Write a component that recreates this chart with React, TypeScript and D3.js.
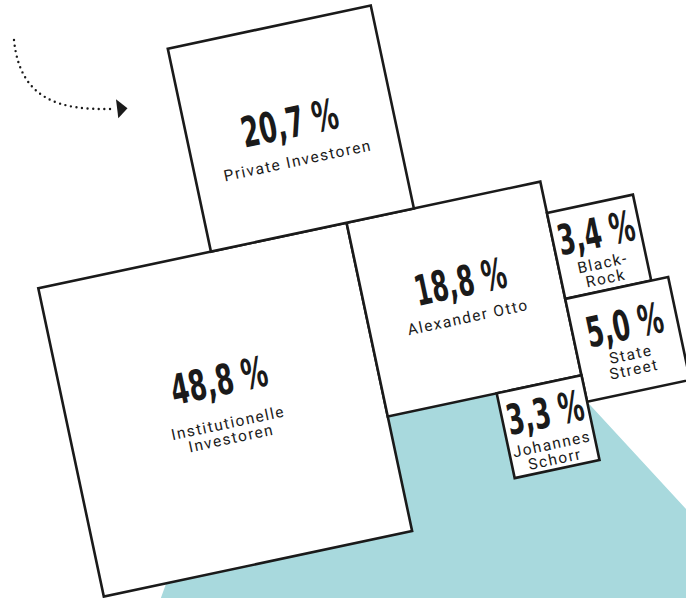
import React from "react";
import * as d3 from "d3";

// ---- data ----
const categories = [
  "Institutionelle Investoren",
  "Alexander Otto",
  "Private Investoren",
  "BlackRock",
  "State Street",
  "Johannes Schorr",
];
const shares = [48.8, 18.8, 20.7, 3.4, 5.0, 3.3];
const labelLines = [
  ["Institutionelle", "Investoren"],
  ["Alexander Otto"],
  ["Private Investoren"],
  ["Black-", "Rock"],
  ["State", "Street"],
  ["Johannes", "Schorr"],
];

// ---- layout / style config ----
const W = 686;
const H = 598;
const ANGLE = -12;
const ORIGIN: [number, number] = [38.3, 288.3];
const TEAL = "#a8d9dd";
const INK = "#1a1a1a";
// vertical text offsets relative to box centre: [number centre, first label line centre]
const textOffsets: [number, number][] = [
  [-30, 14],
  [-18, 19],
  [-6, 33],
  [-14.5, 17],
  [-15, 15.5],
  [-14.7, 18],
];
const LINE_GAP = 15.5;
const NUM_FS = 42;
// target advance per glyph of the condensed numeral style
const charAdvance = (ch: string) =>
  ch === "," ? 12 : ch === " " ? 6 : ch === "%" ? 20 : ch === "1" ? 15 : 20;
// natural advance (em) of DejaVu Sans Bold glyphs
const naturalAdvance = (ch: string) =>
  ch === "," ? 0.38 : ch === " " ? 0.348 : ch === "%" ? 1.002 : 0.696;

const side = d3.scaleSqrt().domain([0, 100]).range([0, 442]);
const sz = (p: number) => side(p) + 6.4;

const fmt = d3.format(".1f");
const pct = (v: number) => fmt(v).replace(".", ",") + " %";

export default function App() {
  const s = shares.map(sz);
  const [sInst, sOtto, sPriv, sBR, sState, sJoh] = s;
  const right = sInst + sOtto;
  const brTop = 32;
  const boxes = [
    { x: 0, y: 0, size: sInst },
    { x: sInst, y: 0, size: sOtto },
    { x: sInst * 0.56, y: -sPriv, size: sPriv },
    { x: right, y: brTop, size: sBR },
    { x: right, y: brTop + sBR, size: sState },
    { x: right - sJoh, y: sOtto, size: sJoh },
  ];
  const stateBottom = brTop + sBR + sState;

  // teal "beam" behind the boxes (local coordinates)
  const leftAnchor: [number, number] = [64, sInst];
  const leftDir: [number, number] = [-0.53, 0.85];
  const rightDir: [number, number] = [0.51, 0.86];
  const far = 700;
  const tealPts: [number, number][] = [
    [leftAnchor[0] + 6, sInst - 10],
    [leftAnchor[0] + 6, sOtto],
    [right, sOtto],
    [right, stateBottom],
    [right + rightDir[0] * far, stateBottom + rightDir[1] * far],
    [leftAnchor[0] + leftDir[0] * far, leftAnchor[1] + leftDir[1] * far],
  ];
  const tealPath = d3.line()(tealPts) + "Z";

  const arrowPath = "M14,40 C20,100 60,110 111,109";

  const numFont = "'DejaVu Sans', sans-serif";
  const labelFont = "Roboto, 'DejaVu Sans', sans-serif";

  return (
    <svg
      width={W}
      height={H}
      viewBox={`0 0 ${W} ${H}`}
      style={{ position: "absolute", left: 0, top: 0, background: "#fff" }}
    >
      <g transform={`translate(${ORIGIN[0]},${ORIGIN[1]}) rotate(${ANGLE})`}>
        <path d={tealPath} fill={TEAL} />
        {boxes.map((b, i) => {
          const cx = b.x + b.size / 2;
          const cy = b.y + b.size / 2;
          const [nDy, lDy] = textOffsets[i];
          const label = pct(shares[i]);
          const chars = label.split("");
          const target = chars.reduce((a, ch) => a + charAdvance(ch), 0);
          const natural =
            chars.reduce((a, ch) => a + naturalAdvance(ch), 0) * NUM_FS;
          const sx = target / natural;
          return (
            <g key={categories[i]}>
              <rect
                x={b.x}
                y={b.y}
                width={b.size}
                height={b.size}
                fill="#fff"
                stroke={INK}
                strokeWidth={2.6}
              />
              <text
                transform={`translate(${cx},${cy + nDy + NUM_FS * 0.36}) scale(${sx},1)`}
                textAnchor="middle"
                fontFamily={numFont}
                fontWeight={700}
                fontSize={NUM_FS}
                fill={INK}
              >
                {label}
              </text>
              {labelLines[i].map((ln, j) => (
                <text
                  key={j}
                  x={cx}
                  y={cy + lDy + j * LINE_GAP}
                  textAnchor="middle"
                  dominantBaseline="central"
                  fontFamily={labelFont}
                  fontSize={15.5}
                  letterSpacing={1.5}
                  fill={INK}
                >
                  {ln}
                </text>
              ))}
            </g>
          );
        })}
      </g>
      <path
        d={arrowPath}
        fill="none"
        stroke={INK}
        strokeWidth={2.4}
        strokeLinecap="round"
        strokeDasharray="0 5.6"
      />
      <polygon points="116,99.3 118.3,118.3 127.5,108.3" fill={INK} />
    </svg>
  );
}
